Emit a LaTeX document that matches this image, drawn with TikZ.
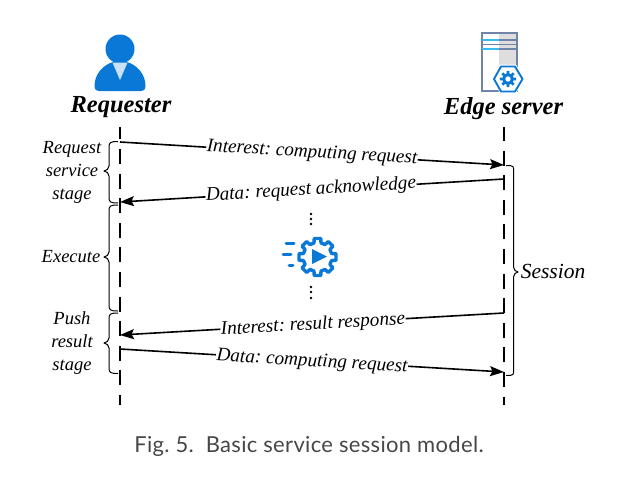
\documentclass[tikz,border=0pt]{standalone}
\usepackage{fontspec}
\setmainfont{Liberation Serif}
\newfontfamily\capfont[LetterSpace=1.5]{Lato}
\usetikzlibrary{arrows.meta}
\definecolor{iconblue}{HTML}{0A78D7}
\definecolor{srvframe}{HTML}{6F84A8}
\tikzset{
  x=1pt,y=-1pt,
  lifelinel/.style={line width=1.6pt,black,dash pattern=on 15pt off 9.6pt,dash phase=2.6pt},
  lifeliner/.style={line width=1.6pt,black,dash pattern=on 15pt off 9.6pt,dash phase=1pt},
  msg/.style={line width=1.6pt,black,-{Stealth[length=14pt,width=10pt,inset=2.5pt]}},
  msglabel/.style={fill=white,inner sep=0.5pt,font=\fontsize{19.2}{21}\selectfont\itshape\frenchspacing},
  sidelabel/.style={align=center,font=\fontsize{18.5}{23}\selectfont\itshape},
  actor/.style={font=\fontsize{24.5}{26}\selectfont\bfseries\itshape},
  bracestyle/.style={draw=black,line width=1pt,line join=round},
  vdots/.style={fill=black,circle,inner sep=0pt,minimum size=2.6pt}
}
% hook end x, body x, tip x, top y, tip y, bottom y
\newcommand\sidebrace[6]{%
  \draw[bracestyle] ({#1},{#4}) .. controls ({#2+1},{#4}) and ({#2},{#4+1}) .. ({#2},{#4+6})
    -- ({#2},{#5-5}) .. controls ({#2},{#5-2}) and ({(#2+#3)/2},{#5-0.5}) .. ({#3},{#5})
    .. controls ({(#2+#3)/2},{#5+0.5}) and ({#2},{#5+2}) .. ({#2},{#5+5})
    -- ({#2},{#6-6}) .. controls ({#2},{#6-1}) and ({#2+1},{#6}) .. ({#1},{#6});}
\begin{document}
\begin{tikzpicture}
\useasboundingbox (0,0) rectangle (632,483);
% person icon
\fill[iconblue] (120,49) circle (14.5);
\fill[iconblue] (94.5,86) .. controls (94.5,74) and (103,65) .. (113,62) -- (120,62) -- (127,62) .. controls (137,65) and (145.5,74) .. (145.5,86)
  .. controls (145.5,90) and (143,91) .. (141,91) -- (99,91) .. controls (97,91) and (94.5,90) .. (94.5,86) -- cycle;
\fill[iconblue!22] (112.5,62.5) -- (127.5,62.5) -- (120,80) -- cycle;
% server icon
\fill[black!13] (499,33) rectangle (517,91);
\draw[srvframe,line width=1.6pt] (482,33) rectangle (517,91);
\draw[srvframe,line width=1.2pt] (482,44.5) -- (517,44.5) (499,40) -- (517,40) (499,49) -- (517,49);
\draw[cyan!80!white,line width=1.5pt] (482,40) -- (499,40) (482,49) -- (499,49);
\fill[white] (492,79) -- (500,64.5) -- (516,64.5) -- (524.5,79) -- (516,93) -- (500,93) -- cycle;
\draw[iconblue,line width=1.9pt,line join=round] (494,79) -- (501,66.5) -- (515,66.5) -- (522.5,79) -- (515,91.5) -- (501,91.5) -- cycle;
\fill[iconblue,even odd rule,shift={(508,79)}] (0,0) circle (2.8)
  (-13:5.6) \foreach \a in {0,45,...,315} { -- (\a-13:5.6) -- (\a-9:8.2) -- (\a+9:8.2) -- (\a+13:5.6) } -- cycle;
% execute icon
\draw[iconblue,line width=3.4pt,line join=round,shift={(317.5,257)}]
  (-14:14.5) \foreach \a in {0,45,...,315} { -- (\a-14:14.5) -- (\a-10:18.8) -- (\a+10:18.8) -- (\a+14:14.5) } -- cycle;
\fill[iconblue] (312,249) -- (312,264) -- (327,256.5) -- cycle;
\draw[iconblue,line width=3pt,line cap=round] (286,243) -- (294,243) (283,254) -- (291,254) (289,265) -- (293,265);
\node[vdots] (d1) at (311,214) {}; \node[vdots] (d2) at (311,219) {}; \node[vdots] (d3) at (311,224) {};
\node[vdots] (d4) at (311,287) {}; \node[vdots] (d5) at (311,292) {}; \node[vdots] (d6) at (311,298) {};
% headers
\node[actor] (req) at (121,107) {Requester};
\node[actor] (edge) at (503.5,109) {Edge server};
% lifelines
\coordinate (la) at (120,127); \coordinate (lb) at (120,405);
\coordinate (ra) at (504,127); \coordinate (rb) at (504,405);
\draw[lifelinel] (la) -- (lb);
\draw[lifeliner] (ra) -- (rb);
% messages
\coordinate (m1s) at (120,142); \coordinate (m1e) at (504,165);
\coordinate (m2s) at (504,179); \coordinate (m2e) at (120,202);
\coordinate (m3s) at (504,313); \coordinate (m3e) at (120,335);
\coordinate (m4s) at (120,349); \coordinate (m4e) at (504,372);
\draw[msg] (m1s) -- (m1e);
\draw[msg] (m2s) -- (m2e);
\draw[msg] (m3s) -- (m3e);
\draw[msg] (m4s) -- (m4e);
\node[msglabel,rotate=-3.4] (l1) at (312,153) {Interest: computing request};
\node[msglabel,rotate=3.4] (l2) at (311,190) {Data: request acknowledge};
\node[msglabel,rotate=3.3] (l3) at (313,325) {Interest: result response};
\node[msglabel,rotate=-3.4] (l4) at (312,362) {Data: computing request};
% braces
\sidebrace{118}{109}{104}{141.5}{171}{203}
\sidebrace{118}{109}{104}{205}{257}{311}
\sidebrace{118}{109}{104}{313}{343}{373.5}
\sidebrace{506}{513.5}{518}{165.5}{272}{375.5}
\node[sidelabel] (s1) at (72,172) {Request\\service\\stage};
\node[sidelabel] (s2) at (71,257) {Execute};
\node[sidelabel] (s3) at (72,343) {Push\\result\\stage};
\node[sidelabel,font=\fontsize{21.5}{23}\selectfont\itshape] (s4) at (553,271) {Session};
% caption
\node[text=black!72,font=\capfont\fontsize{22}{24}\selectfont] (cap) at (309,446) {Fig.\ 5.\ \ Basic service session model.};
\end{tikzpicture}
\end{document}
